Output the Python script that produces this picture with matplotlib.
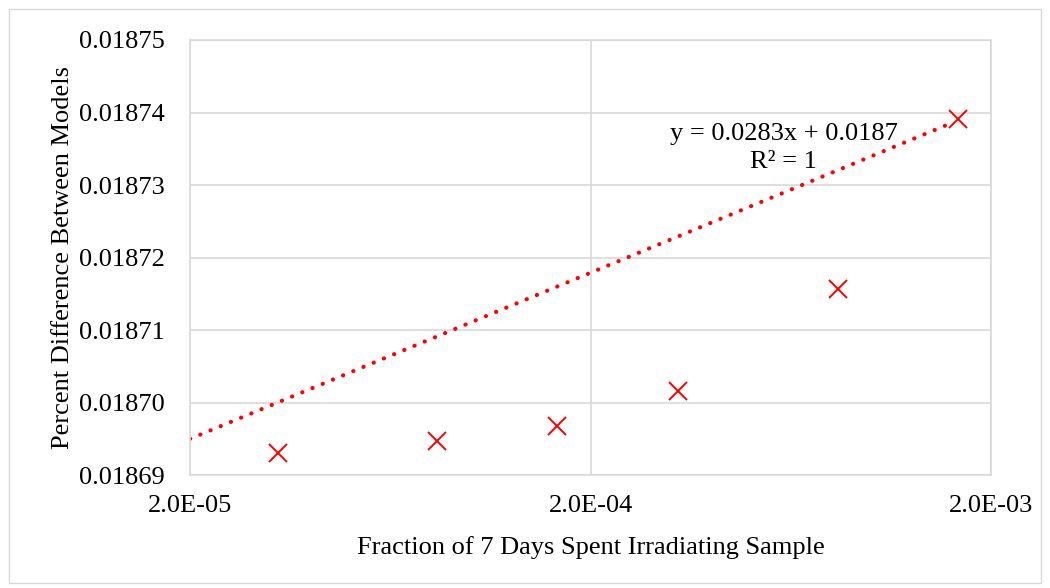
import matplotlib.pyplot as plt
from matplotlib.patches import Rectangle
from matplotlib.ticker import FixedLocator, FuncFormatter, NullLocator

plt.rcParams['font.family'] = ['Liberation Serif', 'DejaVu Serif']

# irradiation time as a fraction of 7 days, and the model difference
frac_time = [3.31e-5, 8.27e-5, 1.65e-4, 3.31e-4, 8.27e-4, 1.65e-3]
pct_diff = [0.0186931, 0.0186947, 0.0186968, 0.0187016, 0.0187156, 0.0187391]

# linear trendline ends as drawn on the log axis
trend_x = [2.0e-5, 1.60e-3]
trend_y = [0.0186950, 0.0187386]

x_ticks = [2.0e-5, 2.0e-4, 2.0e-3]
y_ticks = [0.01869, 0.01870, 0.01871, 0.01872, 0.01873, 0.01874, 0.01875]

fig = plt.figure(figsize=(10.5, 5.88), dpi=100)
fig.patches.append(Rectangle((0.009, 0.008), 0.982, 0.976, transform=fig.transFigure,
                             fill=False, edgecolor='#d9d9d9', linewidth=1.0))
ax = fig.add_axes([0.181, 0.192, 0.763, 0.740])

ax.plot(trend_x, trend_y, color='#ff0000', linestyle=(0, (0.05, 2.6)),
        linewidth=3.0, dash_capstyle='round', zorder=2)
ax.plot(frac_time, pct_diff, linestyle='none', marker='x', markersize=13,
        markeredgewidth=1.4, color='#ff0000', zorder=3)

ax.set_xscale('log')
ax.set_xlim(2.0e-5, 2.0e-3)
ax.set_ylim(0.01869, 0.01875)
ax.xaxis.set_major_locator(FixedLocator(x_ticks))
ax.xaxis.set_minor_locator(NullLocator())
ax.xaxis.set_major_formatter(FuncFormatter(lambda v, p: f"{v:.1E}"))
ax.yaxis.set_major_locator(FixedLocator(y_ticks))
ax.yaxis.set_major_formatter(FuncFormatter(lambda v, p: f"{v:.5f}"))

ax.grid(True, color='#d9d9d9', linewidth=1.2)
ax.set_axisbelow(True)
for s in ax.spines.values():
    s.set_color('#d9d9d9')
    s.set_linewidth(1.2)
ax.tick_params(length=0, labelsize=19, colors='black')
ax.tick_params(axis='y', pad=18)
ax.tick_params(axis='x', pad=14)

ax.set_xlabel('Fraction of 7 Days Spent Irradiating Sample', fontsize=19, labelpad=14)
ax.set_ylabel('Percent Difference Between Models', fontsize=19, labelpad=4)

ax.text(6.06e-4, 0.0187351, 'y = 0.0283x + 0.0187\nR² = 1', fontsize=19,
        ha='center', va='center', linespacing=1.35)

fig.savefig('out.png', dpi=100)
